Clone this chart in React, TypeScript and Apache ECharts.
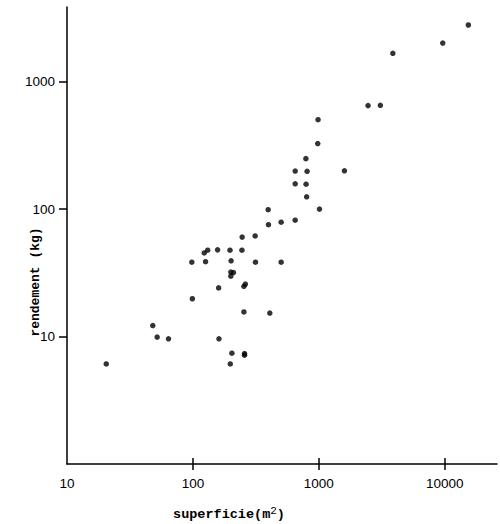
import React, { useEffect, useRef } from "react";
import * as echarts from "echarts";

const superficie = [20.5, 48, 52, 64, 98, 99, 123, 131, 126, 157, 160, 161, 197, 201, 200, 210, 200, 204, 198, 246, 245, 254, 261, 254, 257, 257, 312, 314, 396, 398, 408, 502, 502, 649, 649, 649, 789, 807, 792, 800, 986, 980, 1012, 1597, 2460, 3080, 3870, 9640, 15400];
const rendement = [6.1, 12.2, 9.9, 9.6, 38.3, 19.8, 45.3, 47.6, 38.7, 47.9, 24.1, 9.6, 47.6, 39.3, 32.1, 31.8, 29.8, 7.4, 6.1, 60.3, 47.6, 24.8, 25.8, 15.6, 7.35, 7.15, 61.6, 38.3, 99, 75.5, 15.3, 78.9, 38.3, 199, 158, 81.8, 249, 198, 157, 125, 503, 327, 100, 200, 649, 653, 1670, 2010, 2785];

const xLabels = [10, 100, 1000, 10000];
const xTicks = [100, 1000, 10000];
const yLabels = [10, 100, 1000];
const yTicks = [10, 100, 1000];

const xName = "superficie(m";
const yName = "rendement (kg)";

export default function App() {
  const ref = useRef<HTMLDivElement>(null);
  useEffect(() => {
    if (!ref.current) return;
    const chart = echarts.init(ref.current, null, { renderer: "svg" });
    const labelFont = { color: "#000", fontFamily: "Liberation Sans", fontSize: 13.5 };
    const lineStyle = { color: "#000", width: 1.5 };
    chart.setOption({
      animation: false,
      grid: { left: 67, right: 3, top: 7, bottom: 60, containLabel: false },
      xAxis: [
        {
          type: "log",
          logBase: 10,
          min: 10,
          max: 26000,
          axisLine: { lineStyle },
          axisTick: { show: true, inside: false, length: 6, lineStyle, customValues: xTicks },
          axisLabel: { ...labelFont, margin: 12, customValues: xLabels, formatter: (v: number) => String(Math.round(v)) },
          splitLine: { show: false },
        },
        {
          type: "log",
          logBase: 10,
          min: 10,
          max: 26000,
          position: "bottom",
          axisLine: { show: false },
          axisTick: { show: true, inside: true, length: 6, lineStyle, customValues: xTicks },
          axisLabel: { show: false },
          splitLine: { show: false },
        },
      ],
      yAxis: {
        type: "log",
        logBase: 10,
        min: 1,
        max: 3855,
        axisLine: { lineStyle },
        axisTick: { show: true, inside: false, length: 8, lineStyle, customValues: yTicks },
        axisLabel: { ...labelFont, margin: 12, customValues: yLabels, formatter: (v: number) => String(Math.round(v)) },
        splitLine: { show: false },
      },
      graphic: [
        {
          type: "text",
          x: 229,
          y: 513,
          style: {
            text: "{b|" + xName + "}{s|2}{b|)}",
            align: "center",
            verticalAlign: "middle",
            rich: {
              b: { fontFamily: "Liberation Mono", fontWeight: "bold", fontSize: 13.5, fill: "#000", color: "#000", lineHeight: 16, verticalAlign: "bottom" },
              s: { fontFamily: "Liberation Mono", fontSize: 11, fill: "#000", color: "#000", lineHeight: 16, verticalAlign: "top" },
            },
          },
        },
        {
          type: "text",
          x: 35,
          y: 282,
          rotation: Math.PI / 2,
          style: {
            text: yName,
            align: "center",
            verticalAlign: "middle",
            font: "bold 13px 'Liberation Mono'",
            fill: "#000",
          },
        },
      ],
      series: [
        {
          type: "scatter",
          xAxisIndex: 0,
          symbol: "circle",
          symbolSize: 5.5,
          itemStyle: { color: "#000" },
          data: superficie.map((x, i) => [x, rendement[i]]),
        },
      ],
    });
    return () => chart.dispose();
  }, []);
  return <div ref={ref} style={{ position: "fixed", left: 0, top: 0, width: 500, height: 524, background: "#fff" }} />;
}
